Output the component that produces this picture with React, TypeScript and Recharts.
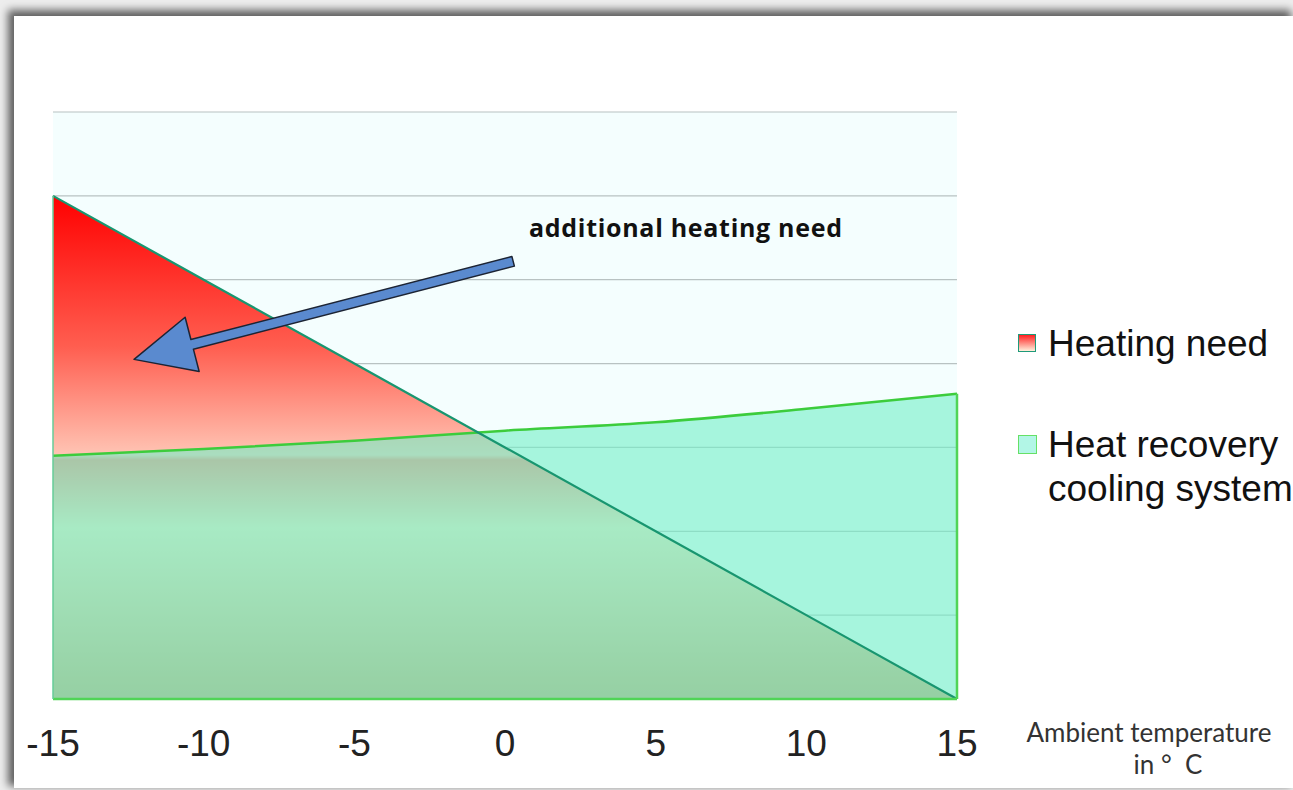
import React from 'react';
import {
  ComposedChart,
  Area,
  Line,
  XAxis,
  YAxis,
  CartesianGrid,
  ReferenceLine,
  Legend
} from 'recharts';

// ambient temperature (°C) and the two curves
const TEMPS = [-15, -10, -5, 0, 5, 10, 15];
const HEATING_NEED = [6, 5, 4, 3, 2, 1, 0];
const HEAT_RECOVERY = [2.9, 2.98, 3.08, 3.2, 3.3, 3.46, 3.64];
const X_TICKS = [-15, -10, -5, 0, 5, 10, 15];
const Y_TICKS = [0, 1, 2, 3, 4, 5, 6, 7];

// annotation arrow, in data coordinates
const ARROW_TAIL = { x: 0.27, y: 5.22 };
const ARROW_TIP = { x: -12.31, y: 4.05 };

const data = TEMPS.map((t, i) => ({
  t,
  heating: HEATING_NEED[i],
  recovery: HEAT_RECOVERY[i]
}));

const W = 1293;
const H = 790;

const Arrow = (props: any) => {
  const { x1, y1, x2, y2 } = props;
  // x1,y1 = tail ; x2,y2 = tip
  const dx = x1 - x2;
  const dy = y1 - y2;
  const len = Math.sqrt(dx * dx + dy * dy) || 1;
  const ux = dx / len;
  const uy = dy / len;
  const nx = -uy;
  const ny = ux;
  const headLen = 60;
  const headHalf = 28;
  const shaft = 5;
  const bx = x2 + ux * headLen;
  const by = y2 + uy * headLen;
  const pts = [
    [x2, y2],
    [bx + nx * headHalf, by + ny * headHalf],
    [bx + nx * shaft, by + ny * shaft],
    [x1 + nx * shaft, y1 + ny * shaft],
    [x1 - nx * shaft, y1 - ny * shaft],
    [bx - nx * shaft, by - ny * shaft],
    [bx - nx * headHalf, by - ny * headHalf]
  ]
    .map((p) => p.join(','))
    .join(' ');
  return <polygon points={pts} fill="#5a8acf" stroke="#1c2434" strokeWidth={1.5} strokeLinejoin="round" />;
};

const renderLegend = () => (
  <div style={{ fontFamily: '"Liberation Sans", Arial, sans-serif', fontSize: 37, lineHeight: '44px', color: '#111', whiteSpace: 'nowrap' }}>
    <div style={{ position: 'relative', height: 44 }}>
      <div
        style={{
          position: 'absolute',
          left: 0,
          top: 12,
          width: 16,
          height: 16,
          border: '1.5px solid #1e9a7a',
          background: 'linear-gradient(#ff2020, #fff0dc)'
        }}
      />
      <span style={{ position: 'absolute', left: 30, top: 0 }}>Heating need</span>
    </div>
    <div style={{ position: 'relative', height: 88, marginTop: 57 }}>
      <div
        style={{
          position: 'absolute',
          left: 0,
          top: 12,
          width: 17,
          height: 17,
          border: '1.5px solid #66e066',
          background: '#b2f6e6'
        }}
      />
      <span style={{ position: 'absolute', left: 30, top: 0 }}>
        Heat recovery
        <br />
        cooling system
      </span>
    </div>
  </div>
);

export default function App() {
  return (
    <div style={{ position: 'fixed', left: 0, top: 0, width: W, height: H, overflow: 'hidden', background: '#ededed' }}>
      <div
        style={{
          position: 'absolute',
          left: 14,
          top: 16,
          width: W - 14,
          height: H - 18,
          background: '#ffffff',
          boxShadow: '-4px -4px 8px 2px rgba(0,0,0,0.6)'
        }}
      />
      <div style={{ position: 'absolute', left: 0, top: 0 }}>
        <ComposedChart width={W} height={H} data={data} margin={{ top: 112, right: 336, left: 53, bottom: 31 }}>
          <defs>
            <linearGradient id="heatGrad" x1="0" y1="0" x2="0" y2="1">
              <stop offset="0" stopColor="#ff0000" />
              <stop offset="0.3" stopColor="#ff5e50" />
              <stop offset="0.48" stopColor="#ffb4a4" />
              <stop offset="0.515" stopColor="#ffc4b4" />
              <stop offset="0.525" stopColor="#ff8a7b" />
              <stop offset="0.66" stopColor="#f9e4c1" />
              <stop offset="0.783" stopColor="#eacba3" />
              <stop offset="0.962" stopColor="#d1a876" />
              <stop offset="1" stopColor="#cca270" />
            </linearGradient>
          </defs>
          <CartesianGrid vertical={false} stroke="#b8c2c2" strokeWidth={1.2} fill="#f4fefe" fillOpacity={1} />
          <XAxis
            dataKey="t"
            type="number"
            domain={[-15, 15]}
            ticks={X_TICKS}
            interval={0}
            axisLine={false}
            tickLine={false}
            tickMargin={25}
            height={60}
            tick={{ fontSize: 37, fill: '#222', fontFamily: '"Liberation Sans", Arial, sans-serif' }}
          />
          <YAxis hide domain={[0, 7]} ticks={Y_TICKS} />
          <Area
            type="linear"
            dataKey="heating"
            name="Heating need"
            fill="url(#heatGrad)"
            fillOpacity={1}
            stroke="none"
            isAnimationActive={false}
          />
          <Area
            type="monotone"
            dataKey="recovery"
            name="Heat recovery cooling system"
            fill="#72eec6"
            fillOpacity={0.6}
            stroke="#3ccc3c"
            strokeWidth={2.5}
            isAnimationActive={false}
          />
          <Line
            type="linear"
            dataKey="heating"
            stroke="#189670"
            strokeWidth={2.2}
            dot={false}
            legendType="none"
            isAnimationActive={false}
          />
          <ReferenceLine y={0} stroke="#50d456" strokeWidth={2.5} />
          <ReferenceLine
            segment={[
              { x: 15, y: 0 },
              { x: 15, y: HEAT_RECOVERY[HEAT_RECOVERY.length - 1] }
            ]}
            stroke="#50d456"
            strokeWidth={2.5}
          />
          <ReferenceLine
            segment={[
              { x: -15, y: 0 },
              { x: -15, y: HEATING_NEED[0] }
            ]}
            stroke="#66cc99"
            strokeWidth={1.5}
          />
          <ReferenceLine segment={[ARROW_TAIL, ARROW_TIP]} shape={Arrow} ifOverflow="visible" />
          <Legend
            content={renderLegend}
            layout="vertical"
            align="center"
            verticalAlign="middle"
            wrapperStyle={{ left: 1018, top: 322, width: 275, height: 200 }}
          />
        </ComposedChart>
      </div>
      <div
        style={{
          position: 'absolute',
          left: 529,
          top: 212,
          fontFamily: '"Open Sans", Lato, sans-serif',
          fontWeight: 700,
          fontSize: 25,
          letterSpacing: 0.7,
          lineHeight: '30px',
          color: '#111',
          whiteSpace: 'nowrap'
        }}
      >
        additional heating need
      </div>
      <div
        style={{
          position: 'absolute',
          left: 1000,
          top: 716,
          width: 298,
          textAlign: 'center',
          fontFamily: 'Lato, "Open Sans", sans-serif',
          fontSize: 26,
          lineHeight: '32px',
          color: '#333',
          whiteSpace: 'pre'
        }}
      >
        <div>Ambient temperature</div>
        <div style={{ paddingLeft: 38 }}>{'in °  C'}</div>
      </div>
    </div>
  );
}
